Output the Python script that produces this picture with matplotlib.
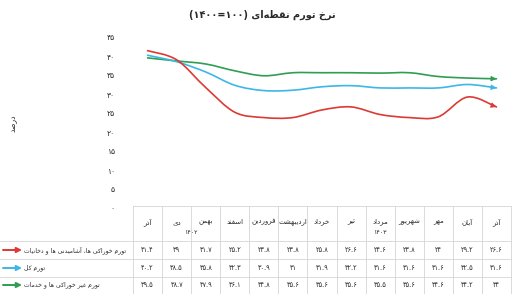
import re
import matplotlib
matplotlib.use("Agg")
import matplotlib.pyplot as plt
import matplotlib.transforms as mtransforms
from matplotlib.path import Path
from matplotlib.patches import PathPatch

# ---------------------------------------------------------------- data
months = ["آذر", "دی", "بهمن", "اسفند", "فروردین", "اردیبهشت", "خرداد",
          "تیر", "مرداد", "شهریور", "مهر", "آبان", "آذر"]
year_labels = ["۱۴۰۲", "۱۴۰۳"]
food = [41.4, 39.0, 31.7, 25.2, 23.8, 23.8, 25.8, 26.6, 24.6, 23.8, 24.0, 29.2, 26.6]
total = [40.2, 38.5, 35.8, 32.3, 30.9, 31.0, 31.9, 32.2, 31.6, 31.6, 31.6, 32.5, 31.6]
nonfood = [39.5, 38.7, 37.9, 36.1, 34.8, 35.6, 35.6, 35.6, 35.5, 35.6, 34.6, 34.2, 34.0]
series_names = ["تورم خوراکی ها، آشامیدنی ها و دخانیات", "تورم کل",
                "تورم غیر خوراکی ها و خدمات"]
title = "نرخ تورم نقطه‌ای (۱۰۰=۱۴۰۰)"
ylabel = "درصد"
yticks = list(range(0, 50, 5))

# ---------------------------------------------------------------- persian shaping (no raqm in mpl)
_FORMS = {  # isolated, final, initial, medial
    "\u0622": (0xFE81, 0xFE82), "\u0627": (0xFE8D, 0xFE8E),
    "\u0628": (0xFE8F, 0xFE90, 0xFE91, 0xFE92), "\u062A": (0xFE95, 0xFE96, 0xFE97, 0xFE98),
    "\u062E": (0xFEA5, 0xFEA6, 0xFEA7, 0xFEA8), "\u062F": (0xFEA9, 0xFEAA),
    "\u0630": (0xFEAB, 0xFEAC), "\u0631": (0xFEAD, 0xFEAE),
    "\u0633": (0xFEB1, 0xFEB2, 0xFEB3, 0xFEB4), "\u0634": (0xFEB5, 0xFEB6, 0xFEB7, 0xFEB8),
    "\u0635": (0xFEB9, 0xFEBA, 0xFEBB, 0xFEBC), "\u0637": (0xFEC1, 0xFEC2, 0xFEC3, 0xFEC4),
    "\u063A": (0xFECD, 0xFECE, 0xFECF, 0xFED0), "\u0641": (0xFED1, 0xFED2, 0xFED3, 0xFED4),
    "\u0642": (0xFED5, 0xFED6, 0xFED7, 0xFED8), "\u0644": (0xFEDD, 0xFEDE, 0xFEDF, 0xFEE0),
    "\u0645": (0xFEE1, 0xFEE2, 0xFEE3, 0xFEE4), "\u0646": (0xFEE5, 0xFEE6, 0xFEE7, 0xFEE8),
    "\u0647": (0xFEE9, 0xFEEA, 0xFEEB, 0xFEEC), "\u0648": (0xFEED, 0xFEEE),
    "\u06A9": (0xFB8E, 0xFB8F, 0xFB90, 0xFB91), "\u06CC": (0xFBFC, 0xFBFD, 0xFBFE, 0xFBFF),
}
_NUM = "[0-9\u06f0-\u06f9.]+"


def shape(s):
    s = s.replace("\u064a", "\u06cc").replace("\u0643", "\u06a9")
    out = []
    for i, ch in enumerate(s):
        f = _FORMS.get(ch)
        if f is None:
            if ch != "\u200c":
                out.append(ch)
            continue
        prev = _FORMS.get(s[i - 1]) if i > 0 else None
        nxt = _FORMS.get(s[i + 1]) if i + 1 < len(s) else None
        jp = prev is not None and len(prev) == 4
        jn = nxt is not None and len(f) == 4
        out.append(chr(f[3] if jp and jn else f[1] if jp else f[2] if jn else f[0]))
    return "".join(out)


def fa(s):
    runs = re.findall(_NUM + "|[^0-9\u06f0-\u06f9.]+", shape(s))
    mirror = str.maketrans("()", ")(")
    return "".join(r if re.fullmatch(_NUM, r) else r[::-1].translate(mirror)
                   for r in reversed(runs))


def num(v):
    s = f"{v:.1f}".rstrip("0").rstrip(".")
    return s.translate(str.maketrans("0123456789", "۰۱۲۳۴۵۶۷۸۹"))


def smooth_path(ys):
    # excel-style smoothed line: cubic beziers through the points
    pts = list(enumerate(ys))
    verts, codes = [pts[0]], [Path.MOVETO]
    for i in range(len(pts) - 1):
        p0 = pts[max(i - 1, 0)]; p1 = pts[i]; p2 = pts[i + 1]; p3 = pts[min(i + 2, len(pts) - 1)]
        c1 = (p1[0] + (p2[0] - p0[0]) / 6, p1[1] + (p2[1] - p0[1]) / 6)
        c2 = (p2[0] - (p3[0] - p1[0]) / 6, p2[1] - (p3[1] - p1[1]) / 6)
        verts += [c1, c2, p2]
        codes += [Path.CURVE4] * 3
    return Path(verts, codes), verts[-2]


# ---------------------------------------------------------------- figure
W, H = 513, 294
plt.rcParams["font.family"] = "DejaVu Sans"
fig = plt.figure(figsize=(W / 100, H / 100), dpi=100)
ax = fig.add_axes([133 / W, 1 - 208 / H, (511 - 133) / W, (208 - 37) / H])
ov = fig.add_axes([0, 0, 1, 1], zorder=-1)
ov.set_xlim(0, W); ov.set_ylim(H, 0); ov.axis("off")

ax.set_xlim(-0.5, len(months) - 0.5)
ax.set_ylim(0, 45)
for s in ax.spines.values():
    s.set_visible(False)
ax.set_xticks([])
ax.set_yticks(yticks, labels=[num(v) for v in yticks], fontsize=5.5, color="#2a2a2a")
ax.tick_params(axis="y", length=0, pad=13)
ax.patch.set_alpha(0)

colors = ["#dc3a33", "#3db7e6", "#2f9e52"]
for ys, c in zip([nonfood, total, food], colors[::-1]):
    path, tail = smooth_path(ys)
    ax.add_patch(PathPatch(path, fill=False, edgecolor=c, lw=1.2, capstyle="round"))
    ax.annotate("", xy=(len(ys) - 1, ys[-1]), xytext=tail,
                arrowprops=dict(arrowstyle="-|>,head_length=0.5,head_width=0.25",
                                color=c, lw=0.8, mutation_scale=6, shrinkA=0, shrinkB=0))

# ---------------------------------------------------------------- data table
bl = mtransforms.blended_transform_factory(ax.transData, ov.transData)
lc = "#d4d4d4"
row_y = [250, 268, 285]
ov.plot([133, 511], [206, 206], color=lc, lw=0.6)
for yy in [241, 259, 277]:
    ov.plot([0, 511], [yy, yy], color=lc, lw=0.6)
for k in range(len(months) + 1):
    ax.plot([k - 0.5, k - 0.5], [206, H], color=lc, lw=0.6, transform=bl, clip_on=False)

for i, m in enumerate(months):
    ax.text(i, 222, fa(m), transform=bl, ha="center", va="center", fontsize=5, color="#2a2a2a")
for p, yl in zip([1.5, 8.0], year_labels):
    ax.text(p, 233, yl, transform=bl, ha="center", va="center", fontsize=4.5, color="#2a2a2a")
for ys, yy in zip([food, total, nonfood], row_y):
    for i, v in enumerate(ys):
        ax.text(i, yy, num(v), transform=bl, ha="center", va="center", fontsize=4.8,
                color="#2a2a2a")

for name, c, yy in zip(series_names, colors, row_y):
    ov.annotate("", xy=(22, yy), xytext=(3, yy),
                arrowprops=dict(arrowstyle="-|>,head_length=0.5,head_width=0.25",
                                color=c, lw=1.4, mutation_scale=6, shrinkA=0, shrinkB=0))
    ov.text(24, yy, fa(name), ha="left", va="center", fontsize=4.4, color="#2a2a2a")

ov.text(262, 15, fa(title), ha="center", va="center", fontsize=7, fontweight="bold",
        color="#2a2a2a")
ov.text(13, 123, fa(ylabel), ha="center", va="center", rotation=90, fontsize=5.5,
        color="#2a2a2a")

fig.savefig("out.png", dpi=100)
